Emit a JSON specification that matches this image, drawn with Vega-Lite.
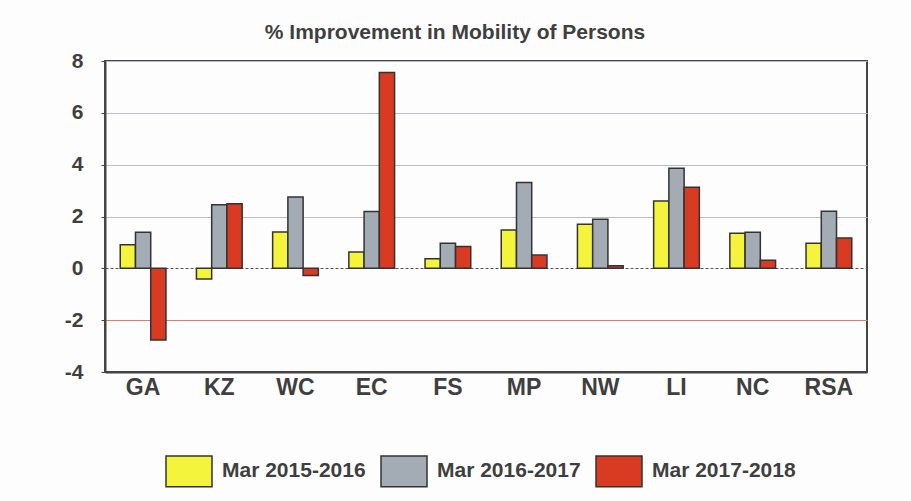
{
  "$schema": "https://vega.github.io/schema/vega-lite/v6.json",
  "width": 762,
  "height": 311,
  "autosize": {"type": "none"},
  "padding": {"left": 105, "top": 61, "right": 44, "bottom": 129},
  "background": "#fdfdfd",
  "title": {
    "text": "% Improvement in Mobility of Persons",
    "anchor": "middle",
    "dx": -31,
    "offset": 7,
    "fontSize": 21,
    "fontWeight": "bold",
    "font": "Liberation Sans",
    "color": "#3f3f3f"
  },
  "config": {
    "font": "Liberation Sans",
    "view": {"stroke": "#444444", "strokeWidth": 2}
  },
  "data": {
    "values": [
      {"region": "GA", "period": "Mar 2015-2016", "value": 0.91},
      {"region": "GA", "period": "Mar 2016-2017", "value": 1.39},
      {"region": "GA", "period": "Mar 2017-2018", "value": -2.77},
      {"region": "KZ", "period": "Mar 2015-2016", "value": -0.41},
      {"region": "KZ", "period": "Mar 2016-2017", "value": 2.45},
      {"region": "KZ", "period": "Mar 2017-2018", "value": 2.49},
      {"region": "WC", "period": "Mar 2015-2016", "value": 1.40},
      {"region": "WC", "period": "Mar 2016-2017", "value": 2.75},
      {"region": "WC", "period": "Mar 2017-2018", "value": -0.28},
      {"region": "EC", "period": "Mar 2015-2016", "value": 0.63},
      {"region": "EC", "period": "Mar 2016-2017", "value": 2.19},
      {"region": "EC", "period": "Mar 2017-2018", "value": 7.56},
      {"region": "FS", "period": "Mar 2015-2016", "value": 0.37},
      {"region": "FS", "period": "Mar 2016-2017", "value": 0.97},
      {"region": "FS", "period": "Mar 2017-2018", "value": 0.84},
      {"region": "MP", "period": "Mar 2015-2016", "value": 1.48},
      {"region": "MP", "period": "Mar 2016-2017", "value": 3.31},
      {"region": "MP", "period": "Mar 2017-2018", "value": 0.51},
      {"region": "NW", "period": "Mar 2015-2016", "value": 1.70},
      {"region": "NW", "period": "Mar 2016-2017", "value": 1.89},
      {"region": "NW", "period": "Mar 2017-2018", "value": 0.10},
      {"region": "LI", "period": "Mar 2015-2016", "value": 2.60},
      {"region": "LI", "period": "Mar 2016-2017", "value": 3.86},
      {"region": "LI", "period": "Mar 2017-2018", "value": 3.13},
      {"region": "NC", "period": "Mar 2015-2016", "value": 1.35},
      {"region": "NC", "period": "Mar 2016-2017", "value": 1.39},
      {"region": "NC", "period": "Mar 2017-2018", "value": 0.31},
      {"region": "RSA", "period": "Mar 2015-2016", "value": 0.97},
      {"region": "RSA", "period": "Mar 2016-2017", "value": 2.20},
      {"region": "RSA", "period": "Mar 2017-2018", "value": 1.17}
    ]
  },
  "mark": {"type": "bar", "stroke": "#333333", "strokeWidth": 1.5},
  "encoding": {
    "x": {
      "field": "region",
      "type": "nominal",
      "sort": null,
      "scale": {"paddingInner": 0.4, "paddingOuter": 0.2},
      "axis": {
        "title": null,
        "labelAngle": 0,
        "labelFontSize": 23,
        "labelFontWeight": "bold",
        "labelColor": "#3f3f3f",
        "labelPadding": 4,
        "ticks": false,
        "domainColor": "#444444",
        "domainWidth": 2
      }
    },
    "xOffset": {"field": "period", "type": "nominal"},
    "y": {
      "field": "value",
      "type": "quantitative",
      "scale": {"domain": [-4, 8], "nice": false},
      "axis": {
        "title": null,
        "values": [-4, -2, 0, 2, 4, 6, 8],
        "labelExpr": "'' + datum.value",
        "labelFontSize": 21,
        "labelFontWeight": "bold",
        "labelColor": "#3f3f3f",
        "labelPadding": 18,
        "tickSize": 4,
        "tickColor": "#444444",
        "domainColor": "#444444",
        "domainWidth": 2,
        "gridColor": {
          "condition": [
            {"test": "datum.value == -2", "value": "#e07a6a"},
            {"test": "datum.value == 0", "value": "#555555"}
          ],
          "value": "#b8bcc4"
        },
        "gridDash": {"condition": {"test": "datum.value == 0", "value": [3, 2]}, "value": []},
        "gridWidth": 1
      }
    },
    "color": {
      "field": "period",
      "type": "nominal",
      "scale": {
        "domain": ["Mar 2015-2016", "Mar 2016-2017", "Mar 2017-2018"],
        "range": ["#f4f43c", "#a3abb4", "#d83a22"]
      },
      "legend": {
        "title": null,
        "orient": "none",
        "direction": "horizontal",
        "legendX": 60,
        "legendY": 386,
        "symbolType": "M-1,-0.67H1V0.67H-1Z",
        "symbolSize": 2116,
        "symbolStrokeColor": "#333333",
        "symbolStrokeWidth": 1.5,
        "symbolOpacity": 1,
        "labelFontSize": 21,
        "labelFontWeight": "bold",
        "labelColor": "#3f3f3f",
        "labelOffset": 9,
        "columnPadding": 12,
        "labelLimit": 250
      }
    }
  }
}
